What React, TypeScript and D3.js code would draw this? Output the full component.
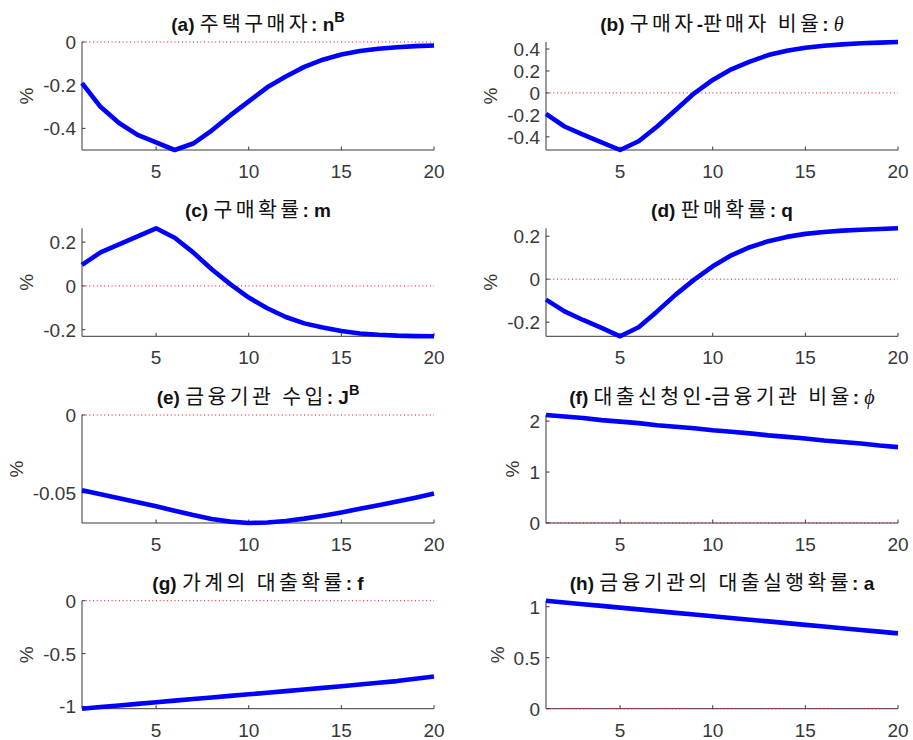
import React from "react";
import * as d3 from "d3";

// Horizon (quarters after the shock)
const periods = [1, 2, 3, 4, 5, 6, 7, 8, 9, 10, 11, 12, 13, 14, 15, 16, 17, 18, 19, 20];

// Impulse responses, % deviation from steady state
const nB = [-0.19, -0.3, -0.375, -0.43, -0.465, -0.5, -0.47, -0.41, -0.34, -0.275, -0.21, -0.16, -0.115, -0.082, -0.058, -0.042, -0.031, -0.024, -0.019, -0.016];
const theta = [-0.19, -0.306, -0.38, -0.45, -0.52, -0.44, -0.306, -0.155, -0.003, 0.118, 0.215, 0.285, 0.345, 0.385, 0.412, 0.43, 0.442, 0.452, 0.458, 0.464];
const mProb = [0.096, 0.153, 0.19, 0.226, 0.263, 0.22, 0.153, 0.076, 0.008, -0.053, -0.102, -0.142, -0.171, -0.19, -0.206, -0.217, -0.223, -0.227, -0.229, -0.23];
const qProb = [-0.095, -0.15, -0.19, -0.227, -0.266, -0.224, -0.15, -0.072, -0.002, 0.06, 0.111, 0.149, 0.177, 0.197, 0.211, 0.22, 0.226, 0.23, 0.234, 0.237];
const jB = [-0.0483, -0.0509, -0.0535, -0.0561, -0.0587, -0.0615, -0.0643, -0.0668, -0.0685, -0.0694, -0.0691, -0.0681, -0.0666, -0.0647, -0.0626, -0.0603, -0.058, -0.0556, -0.0531, -0.0505];
const phi = [2.12, 2.09, 2.06, 2.02, 1.99, 1.96, 1.92, 1.89, 1.86, 1.82, 1.79, 1.76, 1.72, 1.69, 1.66, 1.62, 1.59, 1.56, 1.52, 1.49];
const fProb = [-1.021, -1.005, -0.99, -0.975, -0.96, -0.945, -0.93, -0.915, -0.9, -0.885, -0.87, -0.855, -0.84, -0.824, -0.808, -0.792, -0.776, -0.76, -0.738, -0.716];
const aProb = [1.059, 1.042, 1.025, 1.008, 0.991, 0.974, 0.957, 0.94, 0.923, 0.906, 0.889, 0.872, 0.856, 0.839, 0.822, 0.806, 0.789, 0.772, 0.756, 0.739];

// Tick values
const xTicks = [5, 10, 15, 20];
const yTicksA = [-0.4, -0.2, 0];
const yTicksB = [-0.4, -0.2, 0, 0.2, 0.4];
const yTicksC = [-0.2, 0, 0.2];
const yTicksD = [-0.2, 0, 0.2];
const yTicksE = [-0.05, 0];
const yTicksF = [0, 1, 2];
const yTicksG = [-1, -0.5, 0];
const yTicksH = [0, 0.5, 1];

type Seg = { t: string; k: "lat" | "kr" | "sup" | "gr" };

const titleA: Seg[] = [{ t: "(a) ", k: "lat" }, { t: "주택구매자", k: "kr" }, { t: ": n", k: "lat" }, { t: "B", k: "sup" }];
const titleB: Seg[] = [{ t: "(b) ", k: "lat" }, { t: "구매자", k: "kr" }, { t: "-", k: "lat" }, { t: "판매자 비율", k: "kr" }, { t: ": ", k: "lat" }, { t: "θ", k: "gr" }];
const titleC: Seg[] = [{ t: "(c) ", k: "lat" }, { t: "구매확률", k: "kr" }, { t: ": m", k: "lat" }];
const titleD: Seg[] = [{ t: "(d) ", k: "lat" }, { t: "판매확률", k: "kr" }, { t: ": q", k: "lat" }];
const titleE: Seg[] = [{ t: "(e) ", k: "lat" }, { t: "금융기관 수입", k: "kr" }, { t: ": J", k: "lat" }, { t: "B", k: "sup" }];
const titleF: Seg[] = [{ t: "(f) ", k: "lat" }, { t: "대출신청인", k: "kr" }, { t: "-", k: "lat" }, { t: "금융기관 비율", k: "kr" }, { t: ": ", k: "lat" }, { t: "ϕ", k: "gr" }];
const titleG: Seg[] = [{ t: "(g) ", k: "lat" }, { t: "가계의 대출확률", k: "kr" }, { t: ": f", k: "lat" }];
const titleH: Seg[] = [{ t: "(h) ", k: "lat" }, { t: "금융기관의 대출실행확률", k: "kr" }, { t: ": a", k: "lat" }];

const panels = [
  { values: nB, ticks: yTicksA, title: titleA },
  { values: theta, ticks: yTicksB, title: titleB },
  { values: mProb, ticks: yTicksC, title: titleC },
  { values: qProb, ticks: yTicksD, title: titleD },
  { values: jB, ticks: yTicksE, title: titleE },
  { values: phi, ticks: yTicksF, title: titleF },
  { values: fProb, ticks: yTicksG, title: titleG },
  { values: aProb, ticks: yTicksH, title: titleH },
];

const W = 913;
const H = 740;
const COLS = [
  { x0: 82, x1: 434 },
  { x0: 546, x1: 898 },
];
const ROW_TOPS = [42, 228.3, 415, 600.7];
const PLOT_H = 108;

const LAT_FONT = "'Liberation Sans', Arial, Helvetica, sans-serif";
const KR_FONT = "'Noto Sans CJK KR', 'Noto Sans', sans-serif";
const GR_FONT = "'Liberation Serif', 'DejaVu Serif', serif";
const TICK_SIZE = 19;
const AXIS_COLOR = "#383838";

function labelWidth(s: string): number {
  let w = 0;
  for (const c of s) {
    if (c === "-") w += 0.333;
    else if (c === ".") w += 0.278;
    else w += 0.556;
  }
  return w * TICK_SIZE;
}

function fmt(v: number): string {
  return String(v);
}

function Panel({ idx }: { idx: number }) {
  const p = panels[idx];
  const col = COLS[idx % 2];
  const top = ROW_TOPS[Math.floor(idx / 2)];
  const bottom = top + PLOT_H;

  const x = d3.scaleLinear().domain([periods[0], periods[periods.length - 1]]).range([col.x0, col.x1]);
  const ext = d3.extent([...p.values, 0]) as [number, number];
  const y = d3.scaleLinear().domain(ext).range([bottom, top]);

  const line = d3
    .line<number>()
    .x((_, i) => x(periods[i]))
    .y((v) => y(v));

  const tickLen = 3.5;
  const maxW = d3.max(p.ticks, (t) => labelWidth(fmt(t))) ?? 0;
  const yLabelX = col.x0 - 6 - maxW - 10;
  const cx = (col.x0 + col.x1) / 2;

  return (
    <g>
      {/* axes */}
      <line x1={col.x0} x2={col.x0} y1={top} y2={bottom} stroke={AXIS_COLOR} strokeWidth={1} />
      <line x1={col.x0} x2={col.x1} y1={bottom} y2={bottom} stroke={AXIS_COLOR} strokeWidth={1} />
      {xTicks.map((t) => (
        <g key={"xt" + t}>
          <line x1={x(t)} x2={x(t)} y1={bottom} y2={bottom - tickLen} stroke={AXIS_COLOR} strokeWidth={1} />
          <text x={x(t)} y={bottom + 28} textAnchor="middle" fontFamily={LAT_FONT} fontSize={TICK_SIZE} fill={AXIS_COLOR}>
            {fmt(t)}
          </text>
        </g>
      ))}
      {p.ticks.map((t) => (
        <g key={"yt" + t}>
          <line x1={col.x0} x2={col.x0 + tickLen} y1={y(t)} y2={y(t)} stroke={AXIS_COLOR} strokeWidth={1} />
          <text x={col.x0 - 6} y={y(t) + 7} textAnchor="end" fontFamily={LAT_FONT} fontSize={TICK_SIZE} fill={AXIS_COLOR}>
            {fmt(t)}
          </text>
        </g>
      ))}
      <text
        transform={`translate(${yLabelX},${(top + bottom) / 2}) rotate(-90)`}
        textAnchor="middle"
        fontFamily={LAT_FONT}
        fontSize={TICK_SIZE}
        fill={AXIS_COLOR}
      >
        %
      </text>
      {/* zero reference */}
      <line
        x1={x(periods[0])}
        x2={x(periods[periods.length - 1])}
        y1={y(0)}
        y2={y(0)}
        stroke="#ff0000"
        strokeWidth={1}
        strokeDasharray="1 2.7"
      />
      {/* response */}
      <path d={line(p.values) ?? ""} fill="none" stroke="#0000ff" strokeWidth={4.6} strokeLinejoin="round" />
      {/* title */}
      <text x={cx} y={top - 11} textAnchor="middle" fill="#111111">
        {p.title.map((s, i) => {
          if (s.k === "kr")
            return (
              <tspan key={i} fontFamily={KR_FONT} fontSize={20.5} fontWeight="normal" letterSpacing={3.4}>
                {s.t}
              </tspan>
            );
          if (s.k === "sup")
            return (
              <tspan key={i} fontFamily={LAT_FONT} fontSize={14.5} fontWeight="bold" dy={-9}>
                {s.t}
              </tspan>
            );
          if (s.k === "gr")
            return (
              <tspan key={i} fontFamily={GR_FONT} fontSize={20} fontStyle="italic">
                {s.t}
              </tspan>
            );
          return (
            <tspan key={i} fontFamily={LAT_FONT} fontSize={19} fontWeight="bold">
              {s.t}
            </tspan>
          );
        })}
      </text>
    </g>
  );
}

export default function App() {
  return (
    <svg
      width={W}
      height={H}
      viewBox={`0 0 ${W} ${H}`}
      style={{ position: "absolute", left: 0, top: 0, background: "#ffffff", display: "block" }}
    >
      <rect x={0} y={0} width={W} height={H} fill="#ffffff" />
      {panels.map((_, i) => (
        <Panel key={i} idx={i} />
      ))}
    </svg>
  );
}
